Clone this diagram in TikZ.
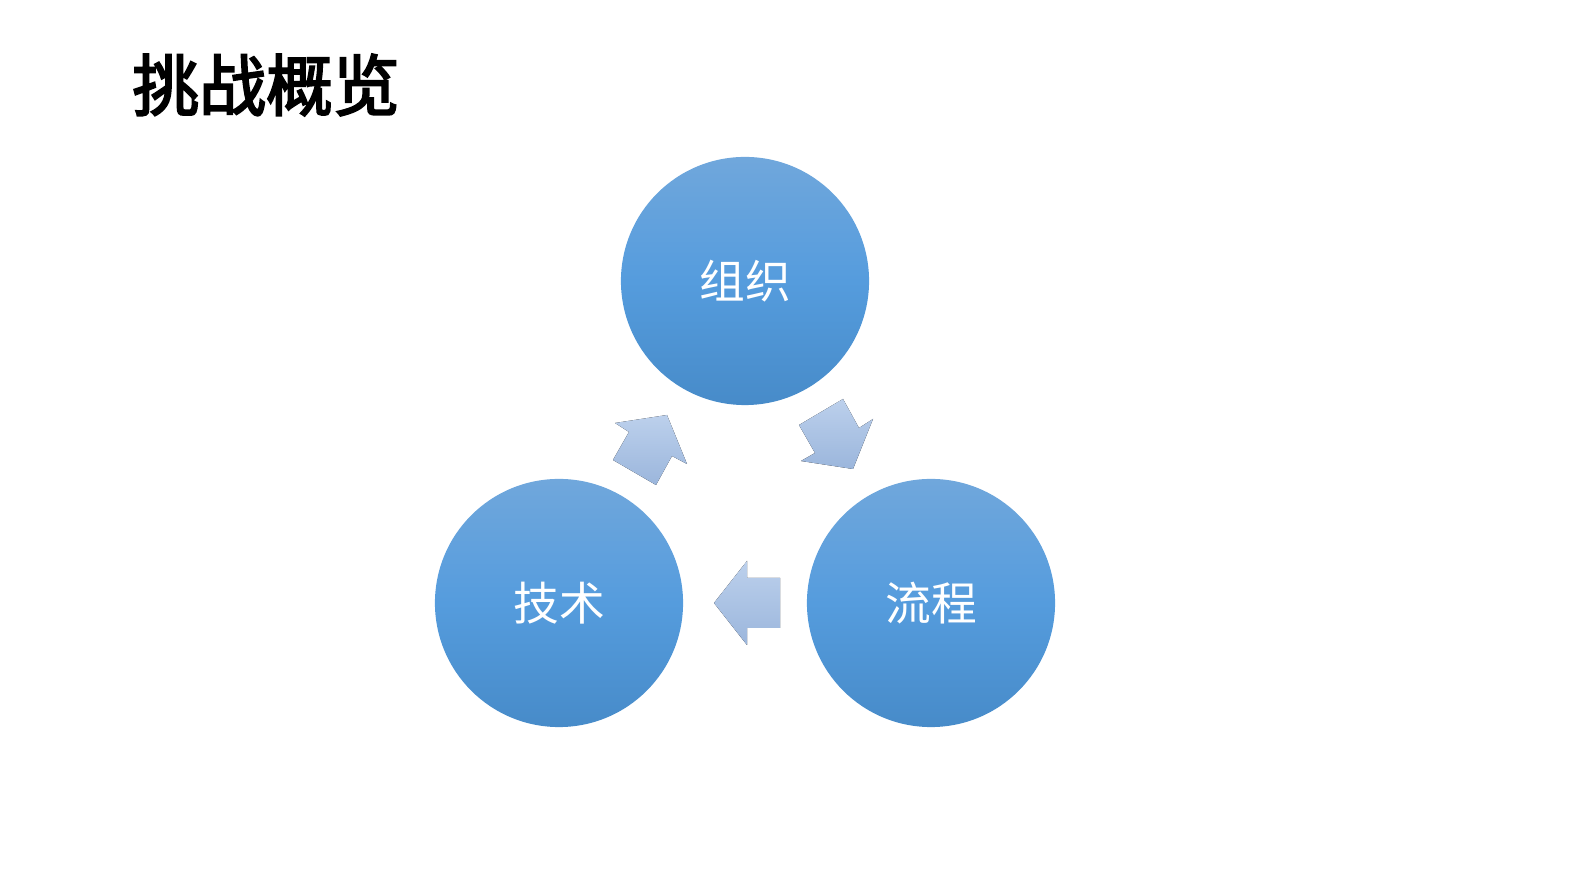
\documentclass[tikz,border=0pt]{standalone}
\usepackage{fontspec}
\newfontfamily\cjk{Noto Sans CJK SC}
\newfontfamily\cjkb[FakeBold=3]{Noto Sans CJK SC}
\definecolor{ctop}{HTML}{70A7DC}
\definecolor{cmid}{HTML}{559CDD}
\definecolor{cbot}{HTML}{478BC9}
\definecolor{atop}{HTML}{BCD0EC}
\definecolor{abot}{HTML}{9BB6DC}
\begin{document}
\begin{tikzpicture}[x=0.01cm,y=-0.01cm,
  circ/.style={circle,minimum size=2.48cm,inner sep=0pt,top color=ctop,bottom color=cbot,middle color=cmid,text=white,font=\cjk\fontsize{13}{13}\selectfont},
  arr/.style={top color=atop,bottom color=abot,draw=none}]
\useasboundingbox (0,0) rectangle (1587,892);
\node[anchor=west,font=\cjkb\fontsize{19}{19}\selectfont] (title) at (120,85) {挑战概览};
\node[circ] (org) at (745,281) {组织};
\node[circ] (tech) at (559,603) {技术};
\node[circ] (proc) at (931,603) {流程};
\fill[arr] (613,460)--(629,432)--(615,423)--(667,415)--(687,464)--(672,456)--(656,485)--cycle;
\fill[arr] (799,425)--(843,399)--(859,428)--(873,419)--(853,469)--(801,461)--(815,453)--cycle;
\fill[arr] (714,603)--(747,561)--(747,578)--(780,578)--(780,628)--(747,628)--(747,645)--cycle;
\end{tikzpicture}
\end{document}
